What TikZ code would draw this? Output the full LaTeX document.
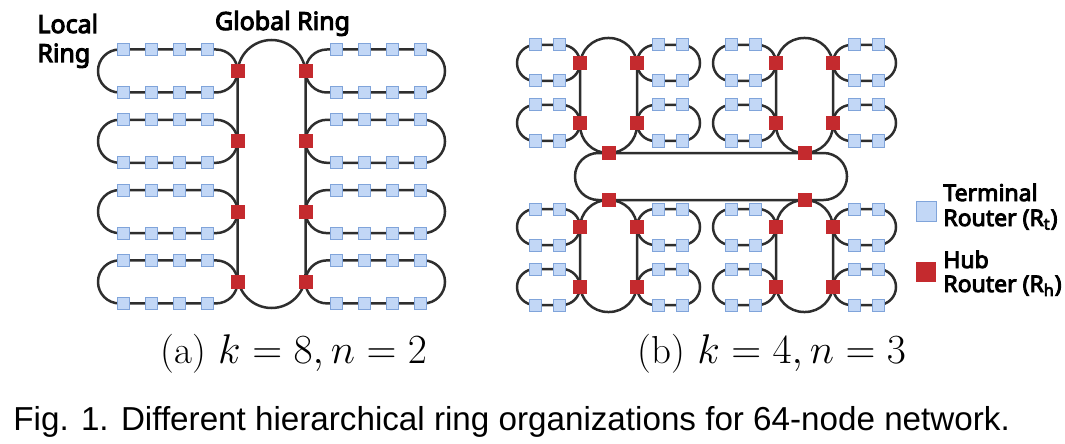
\documentclass[tikz,border=0pt]{standalone}
\usepackage{fontspec}
\newfontfamily\lblfont{Noto Sans}[AutoFakeBold=4]
\newfontfamily\capfont{Liberation Sans}
\definecolor{ringgray}{HTML}{2E2E2E}
\definecolor{termfill}{HTML}{C2D7F6}
\definecolor{termedge}{HTML}{80A4DA}
\definecolor{hubred}{HTML}{C42A2E}
\tikzset{
  ring/.style={draw=ringgray, line width=1.25pt},
  term/.style={draw=termedge, fill=termfill, line width=0.5pt, minimum size=6pt, inner sep=0pt},
  hub/.style={fill=hubred, minimum size=7pt, inner sep=0pt},
  lbl/.style={font=\lblfont\bfseries\fontsize{12.5}{15}\selectfont, inner sep=0pt},
  key/.style={font=\lblfont\bfseries\fontsize{11.5}{14}\selectfont, inner sep=0pt, anchor=base west},
}
\begin{document}
\begin{tikzpicture}[x=0.5pt,y=-0.5pt]
\useasboundingbox (0,0) rectangle (1065,444);
% (a) k=8, n=2
\draw[ring, rounded corners=17pt] (237.5,40) rectangle (305.5,308);
\foreach \i in {0,...,3} {
  \pgfmathsetmacro\yc{71+70.3*\i}
  \draw[ring, rounded corners=10.7pt] (98,\yc-21.5) rectangle (237.5,\yc+21.5);
  \draw[ring, rounded corners=10.7pt] (305.5,\yc-21.5) rectangle (445,\yc+21.5);
  \foreach \x [count=\j] in {123,151,179,207} {
    \node[term] (a-l\i-t\j) at (\x,\yc-21.5) {};
    \node[term] (a-l\i-b\j) at (\x,\yc+21.5) {};
    \node[term] (a-r\i-t\j) at (543-\x,\yc-21.5) {};
    \node[term] (a-r\i-b\j) at (543-\x,\yc+21.5) {};
  }
  \node[hub] (a-hl\i) at (237.5,\yc) {};
  \node[hub] (a-hr\i) at (305.5,\yc) {};
}
% (b) k=4, n=3
\draw[ring, rounded corners=11.7pt] (575,153) rectangle (847,200);
\foreach \cx/\yt/\yb/\ha/\hb/\yl [count=\c] in
    {608.5/38/153/63/123/153, 804.5/38/153/63/123/153,
     608.5/200/312/227/287/200, 804.5/200/312/227/287/200} {
  \draw[ring, rounded corners=14pt] (\cx-28.5,\yt) rectangle (\cx+28.5,\yb);
  \foreach \hy [count=\k] in {\ha,\hb} {
    \draw[ring, rounded corners=9pt] (\cx-91.5,\hy-18) rectangle (\cx-28.5,\hy+18);
    \draw[ring, rounded corners=9pt] (\cx+28.5,\hy-18) rectangle (\cx+91.5,\hy+18);
    \foreach \dx [count=\j] in {-73.5,-49.5,49.5,73.5} {
      \node[term] (b\c-\k-t\j) at (\cx+\dx,\hy-18) {};
      \node[term] (b\c-\k-b\j) at (\cx+\dx,\hy+18) {};
    }
    \node[hub] (b\c-hl\k) at (\cx-28.5,\hy) {};
    \node[hub] (b\c-hr\k) at (\cx+28.5,\hy) {};
  }
  \node[hub] (b\c-hg) at (\cx,\yl) {};
}
% labels and legend
\node[lbl, anchor=base west] (lbl-local) at (37,33) {Local};
\node[lbl, anchor=base west] (lbl-ring) at (37,62) {Ring};
\node[lbl, anchor=base] (lbl-global) at (282.5,30) {Global Ring};
\node[term, minimum size=10pt] (key-term) at (926,211) {};
\node[hub, minimum size=10pt] (key-hub) at (926,272) {};
\node[key] (key-term-a) at (943,201) {Terminal};
\node[key] (key-term-b) at (943,226) {Router (R\textsubscript{t})};
\node[key] (key-hub-a) at (943,268) {Hub};
\node[key] (key-hub-b) at (943,292) {Router (R\textsubscript{h})};
\node[anchor=base, font=\fontsize{19.5}{23}\selectfont] (cap-a) at (294,363) {(a) $k=8,n=2$};
\node[anchor=base, font=\fontsize{19.5}{23}\selectfont] (cap-b) at (772,363) {(b) $k=4,n=3$};
\node[anchor=base west, inner sep=0pt, font=\capfont\fontsize{16.6}{20}\selectfont] (fig-cap) at (13,430)
  {Fig. 1. Different hierarchical ring organizations for 64-node network.};
\end{tikzpicture}
\end{document}
